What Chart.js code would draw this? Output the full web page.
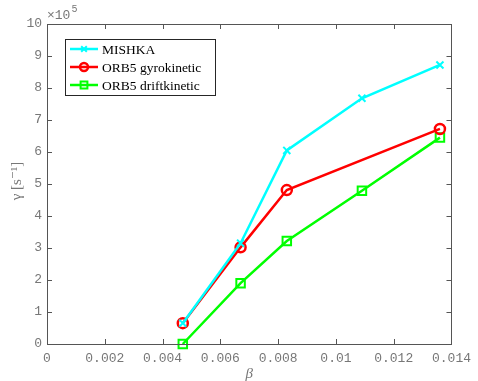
<!DOCTYPE html>
<html>
<head>
<meta charset="utf-8">
<script src="https://cdn.jsdelivr.net/npm/chart.js@4.4.0/dist/chart.umd.min.js"></script>
<style>
    html, body { margin: 0; padding: 0; background: #fff; }
    #growth { display: block; }
</style>
</head>
<body>
<canvas id="growth" width="478" height="381"></canvas>
<script>
// beta values of the scan and growth rates (units of 1e5 s^-1)
const beta = [0.0047, 0.0067, 0.0083, 0.0109, 0.0136];
const mishka = [0.65, 3.15, 6.05, 7.68, 8.72];
const orb5Gyro = [0.65, 3.02, 4.81, null, 6.72];
const orb5Drift = [0.0, 1.9, 3.22, 4.79, 6.45];

const xTicks = [0, 0.002, 0.004, 0.006, 0.008, 0.01, 0.012, 0.014];
const yTicks = [0, 1, 2, 3, 4, 5, 6, 7, 8, 9, 10];

const axisColor = '#555555';
const tickFont = '13px "Liberation Mono", "DejaVu Sans Mono", monospace';
const serifFont = '"Liberation Serif", "DejaVu Serif", serif';

function toPoints(ys) {
    return beta.map((b, i) => ({ x: b, y: ys[i] }));
}

// MATLAB-style box: inward ticks on all four sides, exponent and axis labels, legend
const boxAxes = {
    id: 'boxAxes',
    afterDraw(chart) {
        const { ctx, chartArea: a, scales } = chart;
        const len = 5;
        ctx.save();
        ctx.strokeStyle = axisColor;
        ctx.lineWidth = 1;
        ctx.strokeRect(Math.round(a.left) + 0.5, Math.round(a.top) + 0.5,
            Math.round(a.right - a.left), Math.round(a.bottom - a.top));
        ctx.beginPath();
        xTicks.forEach(t => {
            const px = Math.round(scales.x.getPixelForValue(t)) + 0.5;
            ctx.moveTo(px, a.bottom); ctx.lineTo(px, a.bottom - len);
            ctx.moveTo(px, a.top); ctx.lineTo(px, a.top + len);
        });
        yTicks.forEach(t => {
            const py = Math.round(scales.y.getPixelForValue(t)) + 0.5;
            ctx.moveTo(a.left, py); ctx.lineTo(a.left + len, py);
            ctx.moveTo(a.right, py); ctx.lineTo(a.right - len, py);
        });
        ctx.stroke();

        // exponent above the y axis
        ctx.fillStyle = '#777';
        ctx.font = tickFont;
        ctx.textBaseline = 'alphabetic';
        ctx.textAlign = 'left';
        ctx.fillText('×10', a.left, a.top - 5);
        ctx.font = '10px "Liberation Mono", monospace';
        ctx.fillText('5', a.left + ctx.measureText('×10').width * 1.3 + 1, a.top - 12);

        // axis titles
        ctx.font = 'italic 15px ' + serifFont;
        ctx.textAlign = 'center';
        ctx.textBaseline = 'middle';
        ctx.fillText('β', (a.left + a.right) / 2, 374);
        ctx.save();
        ctx.translate(17, 181);
        ctx.rotate(-Math.PI / 2);
        ctx.font = '15px ' + serifFont;
        ctx.fillText('γ [s⁻¹]', 0, 0);
        ctx.restore();

        // legend box
        const lx = 65, ly = 39, lw = 150, lh = 56;
        ctx.fillStyle = '#fff';
        ctx.fillRect(lx, ly, lw, lh);
        ctx.strokeStyle = '#262626';
        ctx.lineWidth = 1;
        ctx.strokeRect(lx + 0.5, ly + 0.5, lw, lh);
        chart.data.datasets.forEach((ds, i) => {
            const y = ly + 10 + i * 18;
            ctx.strokeStyle = ds.borderColor;
            ctx.lineWidth = ds.borderWidth;
            ctx.beginPath();
            ctx.moveTo(70, y); ctx.lineTo(98, y);
            ctx.stroke();
            ctx.lineWidth = ds.pointBorderWidth;
            ctx.fillStyle = 'rgba(0,0,0,0)';
            Chart.helpers.drawPoint(ctx, {
                pointStyle: ds.pointStyle,
                radius: ds.pointRadius * 0.8,
                borderWidth: ds.pointBorderWidth,
                rotation: 0
            }, 84, y);
            ctx.fillStyle = '#000';
            ctx.font = '13.5px ' + serifFont;
            ctx.textAlign = 'left';
            ctx.fillText(ds.label, 102, y + 1);
        });
        ctx.restore();
    }
};

new Chart(document.getElementById('growth'), {
    type: 'line',
    data: {
        datasets: [
            {
                label: 'MISHKA',
                data: toPoints(mishka),
                borderColor: '#00ffff',
                backgroundColor: 'rgba(0,0,0,0)',
                borderWidth: 2.5,
                pointStyle: 'crossRot',
                pointRadius: 5,
                pointBorderWidth: 2,
                pointBorderColor: '#00ffff'
            },
            {
                label: 'ORB5 gyrokinetic',
                data: toPoints(orb5Gyro),
                borderColor: '#ff0000',
                backgroundColor: 'rgba(0,0,0,0)',
                borderWidth: 2.5,
                pointStyle: 'circle',
                pointRadius: 5,
                pointBorderWidth: 2.5,
                pointBorderColor: '#ff0000',
                pointBackgroundColor: 'rgba(0,0,0,0)',
                spanGaps: true
            },
            {
                label: 'ORB5 driftkinetic',
                data: toPoints(orb5Drift),
                borderColor: '#00ff00',
                backgroundColor: 'rgba(0,0,0,0)',
                borderWidth: 2.5,
                pointStyle: 'rect',
                pointRadius: 6,
                pointBorderWidth: 2,
                pointBorderColor: '#00ff00',
                pointBackgroundColor: 'rgba(0,0,0,0)'
            }
        ]
    },
    options: {
        responsive: false,
        animation: false,
        clip: false,
        layout: { padding: { top: 24, right: 25, left: 0, bottom: 0 } },
        plugins: { legend: { display: false }, tooltip: { enabled: false } },
        scales: {
            x: {
                type: 'linear',
                min: 0,
                max: 0.014,
                afterFit: s => { s.height = 37; },
                afterBuildTicks: s => { s.ticks = xTicks.map(v => ({ value: v })); },
                grid: { display: false, drawTicks: false },
                border: { display: false },
                ticks: {
                    padding: 7,
                    maxRotation: 0,
                    color: '#777',
                    font: { family: '"Liberation Mono", monospace', size: 13 },
                    callback: v => String(Number(v.toFixed(3)))
                }
            },
            y: {
                min: 0,
                max: 10,
                afterFit: s => { s.width = 47; },
                afterBuildTicks: s => { s.ticks = yTicks.map(v => ({ value: v })); },
                grid: { display: false, drawTicks: false },
                border: { display: false },
                ticks: {
                    padding: 5,
                    color: '#777',
                    font: { family: '"Liberation Mono", monospace', size: 13 }
                }
            }
        }
    },
    plugins: [boxAxes]
});
</script>
</body>
</html>
